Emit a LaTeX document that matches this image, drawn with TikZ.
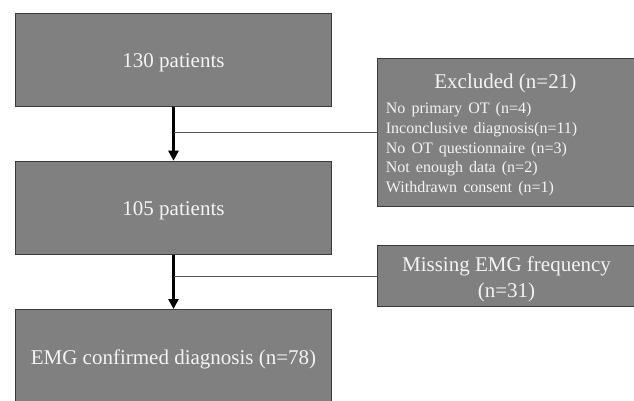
\documentclass[tikz,border=0pt]{standalone}
\usepackage{fontspec}
\setmainfont{Liberation Serif}
\usetikzlibrary{arrows.meta}
\definecolor{boxfill}{HTML}{808080}
\definecolor{boxline}{HTML}{3A3A3A}
\definecolor{boxtext}{HTML}{F4F4F4}
\definecolor{connline}{HTML}{5A5A5A}
\newcommand\widespacing{\spaceskip=0.38em plus 0.1em\relax}
\begin{document}
\begin{tikzpicture}[x=1pt,y=-1pt,
  box/.style={draw=boxline, line width=1pt, fill=boxfill, text=boxtext,
    inner sep=0pt, anchor=north west, align=center,
    font=\fontsize{21}{26}\selectfont},
  onetext/.style={text height=16pt, text depth=0pt},
  txt/.style={text=boxtext, inner sep=0pt},
  mainarrow/.style={line width=2.6pt, black, -{Triangle[length=10pt,width=10pt]}},
  sideline/.style={line width=1pt, draw=connline}]
\clip (0,0) rectangle (634,401);
\useasboundingbox (0,0) rectangle (634,401);
\node[box, onetext, minimum width=315.4pt, minimum height=93.3pt] (b1) at (15.3,12.7) {130 patients};
\node[box, onetext, minimum width=315.4pt, minimum height=93.3pt] (b2) at (15.3,160.7) {105 patients};
\node[box, onetext, minimum width=315.4pt, minimum height=94pt] (b3) at (15.3,309) {EMG confirmed diagnosis (n=78)};
\node[box, minimum width=259.3pt, minimum height=147.7pt] (excl) at (376.7,58.3) {};
\node[box, minimum width=259.3pt, minimum height=60.7pt] (miss) at (376.7,245.3) {};
\node[txt, anchor=base, font=\fontsize{21}{26}\selectfont] (exT) at (505.3,88.3) {Excluded (n=21)};
\node[txt, anchor=north west, align=left, font=\fontsize{16}{19.7}\selectfont\widespacing] (exL) at (385.7,102.3)
  {No primary OT (n=4)\\Inconclusive diagnosis(n=11)\\No OT questionnaire (n=3)\\Not enough data (n=2)\\Withdrawn consent (n=1)};
\node[txt, anchor=north, align=center, font=\fontsize{21}{26}\selectfont] (missT) at (506.5,256.4)
  {Missing EMG frequency\\(n=31)};
\draw[mainarrow] (b1.south) -- (b2.north);
\draw[mainarrow] (b2.south) -- (b3.north);
\draw[sideline] (excl.west) -- (excl.west -| b1.south);
\draw[sideline] (miss.west) -- (miss.west -| b2.south);
\end{tikzpicture}
\end{document}
